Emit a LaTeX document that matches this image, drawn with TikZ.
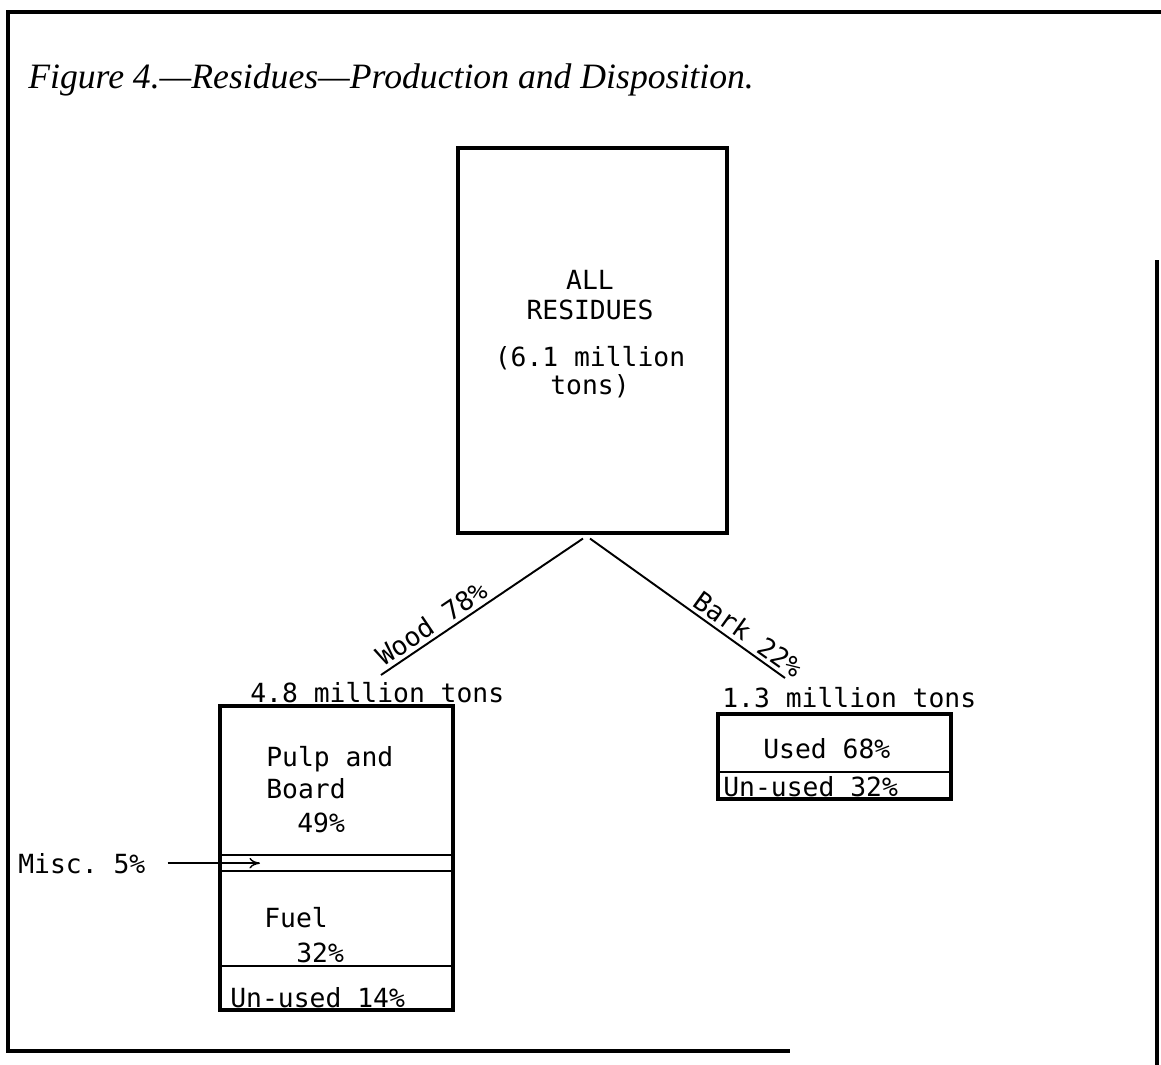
\documentclass[tikz,border=0pt]{standalone}
\usepackage{fontspec}
\setmainfont{Liberation Serif}
\setmonofont{DejaVu Sans Mono}
\usetikzlibrary{positioning,arrows.meta}
\begin{document}
\begin{tikzpicture}[x=0.02cm, y=-0.02cm]

% definitions
\tikzstyle{frame} = [line width=1.8pt]

\tikzstyle{bigbox} = [rectangle, minimum width=5.38cm, minimum height=7.7cm, draw=black, line width=1.8pt]

\tikzstyle{splitbox} = [rectangle, minimum width=4.66cm, inner sep=0pt, draw=black, line width=1.8pt]

\tikzstyle{typed} = [font=\ttfamily\fontsize{15}{17}\selectfont, inner sep=0pt, anchor=base west]

\tikzstyle{divider} = [line width=1pt]

\tikzstyle{branch} = [line width=1.1pt]

\tikzstyle{arrow} = [->,>={To[length=6pt,width=6pt]}, line width=0.8pt]

\useasboundingbox (0,0) rectangle (1161,1065);

% the frame
\draw [frame] (1161,12) -- (8,12) -- (8,1051) -- (790,1051);
\draw [frame] (1157,260) -- (1157,1065);

\node (title) [anchor=base west, inner sep=0pt, font=\itshape\fontsize{20.3}{23}\selectfont] at (28,88) {Figure 4.---Residues---Production and Disposition.};

% the graph
\node (l0) [bigbox] at (592.5,340.5) {};
\node (l0text) [typed, anchor=center, align=center] at (590,334) {ALL\\RESIDUES\\[10pt](6.1 million\\[-1.5pt]tons)};

\node (l1) [splitbox, minimum height=6.08cm] at (336.5,858) {};
\node (l2) [splitbox, minimum height=1.7cm] at (834.5,756.5) {};

\coordinate (woodend) at (381,675);
\coordinate (barkend) at (785,678);

\draw [branch] (woodend) -- ([xshift=-0.19cm, yshift=-0.08cm]l0.south) node [typed, pos=0.29, sloped, anchor=south, inner sep=2pt] {Wood 78\%};
\draw [branch] ([xshift=-0.05cm, yshift=-0.08cm]l0.south) -- (barkend) node [typed, pos=0.77, sloped, anchor=south, inner sep=2pt] {Bark 22\%};

% wood side
\node (woodsum) [typed] at (250,702) {4.8 million tons};
\draw [divider] (220,855) -- (453,855);
\draw [divider] (220,871) -- (453,871);
\draw [divider] (220,966) -- (453,966);

\node (pulp) [typed] at (266,766) {Pulp and};
\node (board) [typed] at (266,798) {Board};
\node (pulppct) [typed] at (297,832) {49\%};
\node (fuel) [typed] at (264,927) {Fuel};
\node (fuelpct) [typed] at (296,962) {32\%};
\node (woodunused) [typed] at (230,1007) {Un-used 14\%};

\node (misc) [typed] at (18,873) {Misc. 5\%};
\coordinate (miscend) at (260,0);
\draw [arrow] ([xshift=0.44cm]misc.east) -- (misc.east -| miscend);

% bark side
\node (barksum) [typed] at (722,707) {1.3 million tons};
\draw [divider] (718,772) -- (951,772);
\node (used) [typed] at (763,758) {Used 68\%};
\node (barkunused) [typed] at (723,796) {Un-used 32\%};

\end{tikzpicture}
\end{document}
